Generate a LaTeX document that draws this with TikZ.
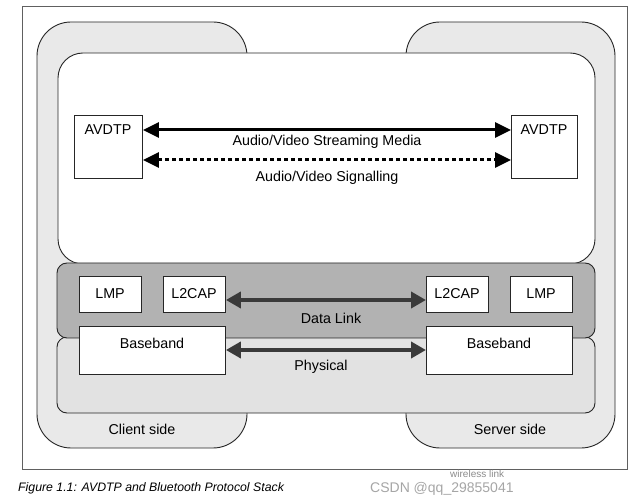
\documentclass[tikz,border=0pt]{standalone}
\usepackage{fontspec}
\setmainfont{Liberation Sans}
\usetikzlibrary{arrows.meta}
\definecolor{lightg}{HTML}{E9E9E9}
\definecolor{physg}{HTML}{E2E2E2}
\definecolor{darkg}{HTML}{B2B2B2}
\definecolor{tipg}{HTML}{3A3A3A}
\definecolor{framec}{HTML}{606060}
\tikzset{
  x=1pt, y=-1pt,
  lbl/.style={font=\fontsize{14.3}{16}\selectfont, inner sep=0pt},
  protobox/.style={draw=black!85, line width=0.9pt, fill=white, anchor=north west, inner sep=0pt},
  sidebox/.style={draw=black!85, line width=0.9pt, fill=lightg, rounded corners=34pt},
  bigarrow/.style={line width=3pt, {Triangle[length=16pt,width=15pt]}-{Triangle[length=16pt,width=15pt]}},
  greyarrow/.style={line width=4pt, draw=tipg, {Triangle[length=15pt,width=16pt]}-{Triangle[length=15pt,width=16pt]}},
}
\begin{document}
\begin{tikzpicture}
\useasboundingbox[fill=white] (0,0) rectangle (637,502);
% outer frame
\draw[framec, line width=1pt] (22,7) rectangle (627,469);
% side shapes
\draw[sidebox] (37,22) rectangle (247,448);
\draw[sidebox] (406,22) rectangle (615,448);
% upper white region
\draw[draw=black!85, line width=0.9pt, fill=white, rounded corners=25pt] (58,53) rectangle (595,264);
% physical and data link layers
\draw[draw=black!85, line width=0.9pt, fill=physg, rounded corners=10pt] (57,337) rectangle (595,413);
\draw[draw=black!85, line width=0.9pt, fill=darkg, rounded corners=10pt] (57,263) rectangle (595,338);
% AVDTP boxes
\node[protobox, minimum width=68pt, minimum height=63pt] (avl) at (74,115) {};
\node[lbl] at (108,130) {AVDTP};
\node[protobox, minimum width=66pt, minimum height=63pt] (avr) at (511,115) {};
\node[lbl] at (544,130) {AVDTP};
% arrows between AVDTP
\draw[bigarrow] (avl.east |- 0,130) -- (avr.west |- 0,130);
\draw[bigarrow, dash pattern=on 4pt off 3pt] (avl.east |- 0,160) -- (avr.west |- 0,160);
\node[lbl] (sm) at (327,142) {Audio/Video Streaming Media};
\node[lbl] (sg) at (327,178) {Audio/Video Signalling};
% lower protocol boxes
\node[protobox, minimum width=62pt, minimum height=36pt] (lmpl) at (79,276) {};
\node[lbl] at (110,294) {LMP};
\node[protobox, minimum width=62pt, minimum height=36pt] (l2l) at (163,276) {};
\node[lbl] at (194,294) {L2CAP};
\node[protobox, minimum width=146pt, minimum height=48pt] (bbl) at (79,326) {};
\node[lbl] at (152,343) {Baseband};
\node[protobox, minimum width=62pt, minimum height=36pt] (l2r) at (426,276) {};
\node[lbl] at (457,294) {L2CAP};
\node[protobox, minimum width=62pt, minimum height=36pt] (lmpr) at (510,276) {};
\node[lbl] at (541,294) {LMP};
\node[protobox, minimum width=146pt, minimum height=48pt] (bbr) at (426,326) {};
\node[lbl] at (499,343) {Baseband};
% lower arrows
\draw[greyarrow] (l2l.east |- 0,300) -- (l2r.west |- 0,300);
\draw[greyarrow] (bbl.east |- 0,350) -- (bbr.west |- 0,350);
\node[lbl] (dl) at (331,318) {Data Link};
\node[lbl] (ph) at (321,367) {Physical};
% side labels
\node[lbl] (cs) at (142,429) {Client side};
\node[lbl] (ss) at (510,429) {Server side};
% caption
\node[font=\fontsize{12.3}{14}\selectfont\itshape, anchor=west, inner sep=0pt] (cap) at (18,488) {Figure 1.1: AVDTP and Bluetooth Protocol Stack};
% watermark
\node[font=\fontsize{10}{11}\selectfont, text=black!45, anchor=west, inner sep=0pt] (wl) at (450,474) {wireless link};
\node[font=\fontsize{14}{16}\selectfont, text=black!35, anchor=west, inner sep=0pt] (wm) at (370,489) {CSDN @qq\_29855041};
\end{tikzpicture}
\end{document}
